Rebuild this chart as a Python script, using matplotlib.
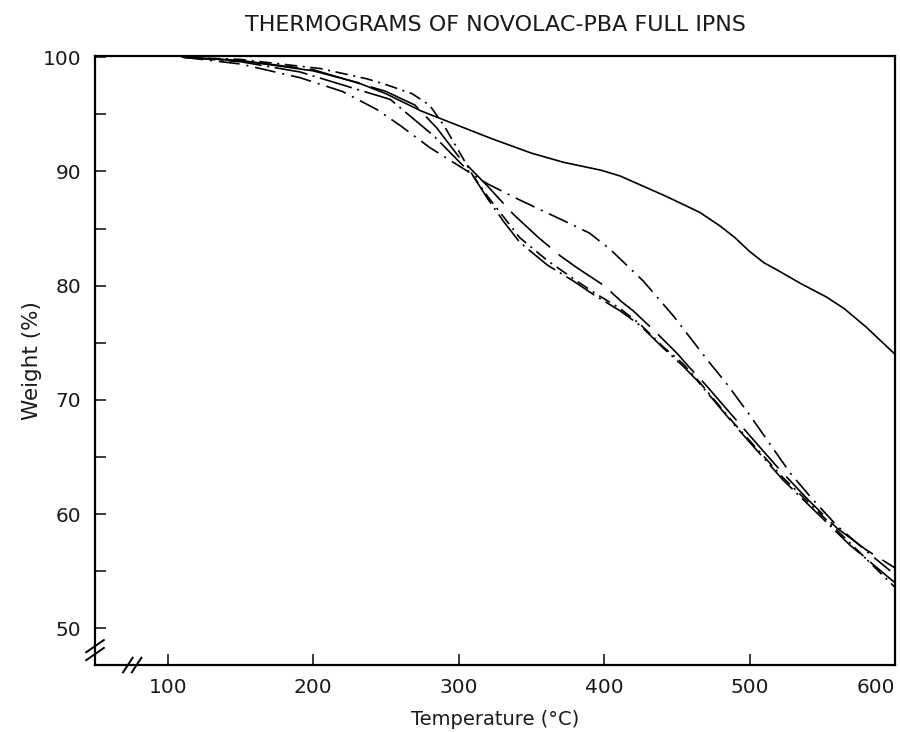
import matplotlib
matplotlib.use("Agg")
import matplotlib.pyplot as plt

# thermogram curves: temperature (deg C) -> weight (%)
temp_a = [110, 150, 200, 230, 250, 274, 300, 322, 350, 372, 398, 411, 443, 466, 480, 490, 500, 510, 520, 535, 553, 565, 580, 600]
wt_a = [100.0, 99.7, 98.8, 97.8, 96.8, 95.3, 94.0, 92.9, 91.6, 90.8, 90.1, 89.6, 87.8, 86.4, 85.2, 84.2, 83.0, 82.0, 81.3, 80.2, 79.0, 78.0, 76.4, 74.0]

temp_b = [110, 150, 191, 253, 283, 310, 320, 331, 342, 361, 379, 393, 411, 425, 441, 454, 464, 489, 523, 544, 569, 600]
wt_b = [100.0, 99.6, 98.7, 96.3, 93.1, 89.6, 87.6, 85.6, 83.8, 81.8, 80.4, 79.2, 77.8, 76.5, 74.5, 73.0, 71.7, 67.9, 63.0, 60.4, 57.3, 54.0]

temp_c = [110, 150, 200, 250, 270, 285, 300, 320, 338, 355, 370, 381, 400, 412, 420, 435, 450, 459, 470, 487, 500, 520, 540, 560, 580, 600]
wt_c = [100.0, 99.7, 98.9, 97.0, 95.8, 93.8, 91.3, 88.7, 86.2, 84.2, 82.6, 81.6, 80.0, 78.6, 77.8, 76.0, 74.1, 72.8, 71.3, 68.8, 66.9, 64.0, 61.3, 58.8, 56.9, 55.3]

temp_d = [110, 150, 205, 237, 250, 268, 280, 290, 300, 310, 320, 331, 342, 361, 379, 393, 411, 425, 441, 454, 464, 489, 523, 544, 569, 600]
wt_d = [100.0, 99.8, 99.0, 98.1, 97.6, 96.8, 95.8, 94.0, 91.8, 89.6, 87.8, 86.0, 84.2, 82.2, 80.6, 79.4, 78.0, 76.6, 74.6, 73.2, 71.8, 68.0, 63.2, 60.6, 57.5, 53.6]

temp_e = [110, 150, 191, 220, 244, 260, 280, 300, 320, 342, 372, 390, 404, 427, 448, 471, 485, 500, 528, 542, 560, 580, 600]
wt_e = [100.0, 99.4, 98.2, 97.0, 95.4, 94.0, 92.1, 90.5, 88.9, 87.5, 85.7, 84.6, 83.2, 80.4, 77.3, 73.5, 71.3, 68.7, 63.6, 61.5, 59.0, 56.8, 54.7]

x_ticks = [100, 200, 300, 400, 500, 600]
y_ticks = [50, 55, 60, 65, 70, 75, 80, 85, 90, 95, 100]
y_labels = ["50", "", "60", "", "70", "", "80", "", "90", "", "100"]

plt.rcParams["font.family"] = ["DejaVu Sans"]
plt.rcParams["lines.scale_dashes"] = False

fig = plt.figure(figsize=(9, 7.32), dpi=100)
ax = fig.add_axes([0.1056, 0.0915, 0.8888, 0.832])

lw = 1.2
ax.plot(temp_a, wt_a, color="k", lw=lw, ls="-")
ax.plot(temp_b, wt_b, color="k", lw=lw, ls=(0, (24, 4, 1.5, 4)))
ax.plot(temp_c, wt_c, color="k", lw=lw, ls=(0, (38, 8)))
ax.plot(temp_d, wt_d, color="k", lw=lw, ls=(0, (9, 4, 1.5, 4)))
ax.plot(temp_e, wt_e, color="k", lw=lw, ls=(0, (15, 5, 1.5, 5)))

ax.set_xlim(50, 600)
ax.set_ylim(46.8, 100.1)
ax.set_xticks(x_ticks)
ax.set_yticks(y_ticks)
ax.set_yticklabels(y_labels)
ax.tick_params(direction="in", length=8, width=1.2, labelsize=14.5, colors="#1a1a1a")
ax.tick_params(axis="x", pad=9)
ax.tick_params(axis="y", pad=10)
# last x label sits inside the frame edge, as in the original
ax.get_xticklabels()[-1].set_ha("right")
for s in ax.spines.values():
    s.set_linewidth(1.6)

# axis break marks  //
for dx in (0.0, 0.011):
    ax.plot([0.035 + dx, 0.047 + dx], [-0.012, 0.012], transform=ax.transAxes,
            color="k", lw=1.4, clip_on=False)
for dy in (0.0, 0.013):
    ax.plot([-0.011, 0.011], [0.008 + dy, 0.028 + dy], transform=ax.transAxes,
            color="k", lw=1.4, clip_on=False)

ax.set_xlabel("Temperature (°C)", fontsize=14, labelpad=10, color="#1a1a1a")
ax.set_ylabel("Weight (%)", fontsize=15.5, color="#1a1a1a")
ax.yaxis.set_label_coords(-0.066, 0.5)
ax.set_title("THERMOGRAMS OF NOVOLAC-PBA FULL IPNS", fontsize=16, pad=18,
             color="#1a1a1a")

fig.savefig("out.png", dpi=100)
plt.close(fig)
